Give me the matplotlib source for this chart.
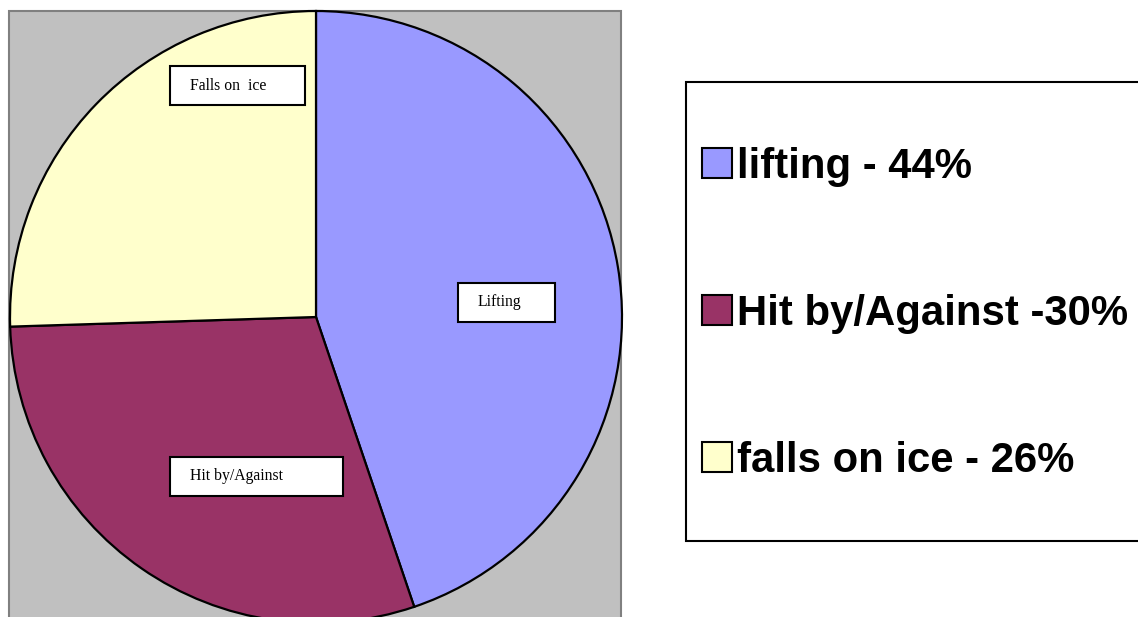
import matplotlib.pyplot as plt
from matplotlib.patches import Rectangle

# data (slice sizes; legend text as printed)
categories = ["Lifting", "Hit by/Against", "Falls on  ice"]
values = [44.8, 29.7, 25.5]
legend_labels = ["lifting - 44%", "Hit by/Against -30%", "falls on ice - 26%"]
colors = ["#9999FF", "#993366", "#FFFFCC"]

W, H = 1138, 617
fig = plt.figure(figsize=(W / 100, H / 100), dpi=100)
ax = fig.add_axes([0, 0, 1, 1])


def py(y):
    # pixel row from top -> data y
    return H - y


# grey plot area
ax.add_patch(Rectangle((9, py(640)), 612, 629, facecolor="#C0C0C0",
                       edgecolor="#808080", lw=1.5, zorder=0))

wedges, _ = ax.pie(values, colors=colors, startangle=90, counterclock=False,
                   center=(316, py(317)), radius=306, frame=True,
                   wedgeprops=dict(edgecolor="black", linewidth=1.6))
ax.set_xlim(0, W)
ax.set_ylim(0, H)
ax.set_aspect('equal')
ax.axis('off')

# label boxes on the slices (left, top, width, height in pixels)
label_boxes = [(458, 283, 97, 39), (170, 457, 173, 39), (170, 66, 135, 39)]
for name, (x, y, w, h) in zip(categories, label_boxes):
    ax.add_patch(Rectangle((x, py(y + h)), w, h, facecolor="white",
                           edgecolor="black", lw=1.5, zorder=3))
    ax.text(x + 20, py(y + h / 2), name, ha="left", va="center",
            family="Liberation Serif", fontsize=11.3, zorder=4)

# legend (box runs off the right edge)
ax.add_patch(Rectangle((686, py(541)), 480, 459, facecolor="white",
                       edgecolor="black", lw=1.5, zorder=1, clip_on=False))
handles = [Rectangle((0, 0), 1, 1, facecolor=c, edgecolor="black", lw=1.5)
           for c in colors]
ax.legend(handles, legend_labels, loc="center left",
          bbox_to_anchor=(681 / W, 1 - 314 / H), bbox_transform=fig.transFigure,
          frameon=False, borderpad=0, labelspacing=2.55,
          handlelength=0.72, handleheight=0.72, handletextpad=0.12,
          prop=dict(family="Liberation Sans", weight="bold", size=30.2))

fig.savefig("out.png", dpi=100)
